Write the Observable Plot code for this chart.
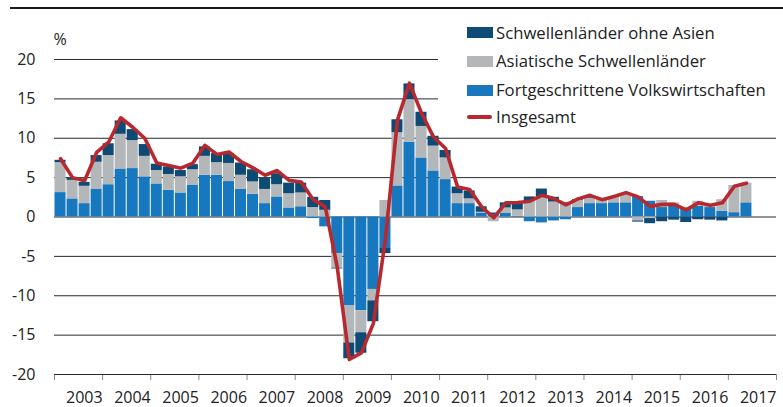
<!DOCTYPE html>
<html>
<head>
<meta charset="utf-8">
<script src="https://cdn.jsdelivr.net/npm/d3@7"></script>
<script src="https://cdn.jsdelivr.net/npm/@observablehq/plot@0.6"></script>
<style>
  html, body { margin: 0; padding: 0; background: #fff; }
  #wrap { position: relative; width: 783px; height: 407px; font-family: "Open Sans", sans-serif; color: #222; }
  #chart svg g[aria-label^="x-axis"] path,
  #chart svg g[aria-label^="x-axis"] line { stroke: #888; }
  .topRule { position: absolute; left: 10px; top: 7.3px; width: 773px; height: 2px; background: #1a1a1a; }
  .legendBox { position: absolute; left: 438px; top: 14px; width: 345px; height: 116px; background: #fff; }
  .sw { position: absolute; left: 466.7px; width: 26px; height: 10.6px; }
  .lt { position: absolute; left: 496px; height: 20px; line-height: 20px; font-size: 16.7px; white-space: nowrap; color: #222; }
  .ln { position: absolute; left: 467px; width: 25px; height: 4px; border-radius: 2px; }
</style>
</head>
<body>
<div id="wrap">
  <div id="chart"></div>
  <div class="topRule"></div>
  <div class="legendBox"></div>
  <div id="legend"></div>
</div>
<script>
// Quarterly observations 2003 Q1 – 2017 Q2 (58 quarters)
const quarters = d3.range(58).map(i => `${2003 + Math.floor(i / 4)} Q${(i % 4) + 1}`);

const seriesNames = ["Fortgeschrittene Volkswirtschaften", "Asiatische Schwellenländer", "Schwellenländer ohne Asien"];
const seriesColors = ["#1878bf", "#b4b7b9", "#0d4b74"];
const lineName = "Insgesamt";
const lineColor = "#b8292f";

const fortgeschrittene = [
  3.1, 2.3, 1.7, 3.55, 4.1, 6.1, 6.15, 5.1, 4.2, 3.4,
  3.05, 4.0, 5.3, 5.3, 4.5, 3.5, 2.9, 1.7, 2.55, 1.15,
  1.3, -0.2, -1.25, -4.65, -11.3, -11.9, -9.2, -4.0, 3.95, 9.5,
  7.5, 5.85, 4.75, 1.7, 1.7, 0.5, 0.3, 0.5, 0.1, -0.6,
  -0.75, -0.5, -0.35, 1.2, 1.7, 1.7, 1.8, 1.8, 2.6, 2.0,
  1.2, 1.4, 1.0, 1.35, 1.2, 0.75, 0.55, 1.8
];
const asiatische = [
  3.8, 2.35, 2.2, 3.4, 3.7, 4.4, 3.55, 2.6, 1.7, 2.0,
  2.05, 2.0, 2.4, 1.6, 2.3, 1.8, 1.55, 1.8, 1.55, 1.8,
  1.75, 1.2, 0.85, -1.85, -4.7, -2.8, -1.45, 2.1, 6.75, 5.4,
  4.0, 3.15, 2.75, 1.25, 0.6, 0.1, -0.6, 0.65, 0.8, 2.0,
  2.55, 1.9, 1.7, 0.9, 0.65, 0.6, 0.8, 1.15, -0.5, -0.2,
  0.9, 0.4, 0.2, 0.65, 0.4, 1.45, 3.45, 2.5
];
const ohneAsien = [
  0.3, 0.25, 0.5, 0.85, 1.5, 1.7, 1.4, 1.5, 0.8, 0.95,
  0.8, 0.65, 1.2, 1.15, 1.25, 1.55, 1.55, 1.45, 1.4, 1.35,
  1.25, 1.3, 1.25, -0.1, -2.0, -2.6, -2.65, -0.65, 1.65, 2.0,
  1.8, 1.25, 0.95, 0.85, 1.0, 0.7, 0.2, 0.65, 0.9, 0.55,
  1.0, 0.6, 0.1, 0.1, 0.1, 0.0, 0.0, 0.0, -0.15, -0.65,
  -0.6, -0.4, -0.7, -0.35, -0.4, -0.5, 0.0, 0.0
];
const insgesamt = [
  7.4, 5.0, 4.6, 8.2, 9.5, 12.6, 11.4, 10.0, 6.85, 6.55,
  6.2, 6.85, 9.1, 7.95, 8.25, 7.05, 6.25, 5.3, 5.9, 4.65,
  4.45, 2.2, 1.3, -6.4, -18.1, -17.25, -13.5, -2.8, 12.3, 17.0,
  13.2, 10.15, 8.7, 3.8, 3.5, 1.3, -0.1, 1.8, 1.85, 2.0,
  2.75, 2.35, 1.55, 2.3, 2.75, 2.2, 2.6, 3.1, 2.55, 1.35,
  1.6, 1.6, 0.9, 1.8, 1.5, 1.8, 3.9, 4.3
];

const yearLabels = ["2003","2004","2005","2006","2007","2008","2009","2010","2011","2012","2013","2014","2015","2016","2017"];
const yTicks = [-20, -15, -10, -5, 0, 5, 10, 15, 20];
const yUnit = "%";

// Build tables
const seriesArrays = [fortgeschrittene, asiatische, ohneAsien];
const bars = [];
seriesArrays.forEach((arr, s) => {
  arr.forEach((v, i) => bars.push({q: i, q2: i + 1, quarter: quarters[i], series: seriesNames[s], value: v}));
});
bars.sort((a, b) => a.q - b.q || seriesNames.indexOf(a.series) - seriesNames.indexOf(b.series));
const linePts = insgesamt.map((v, i) => ({q: i + 0.5, quarter: quarters[i], value: v}));
const nSlots = yearLabels.length * 4;
const yearTicks = d3.range(0, nSlots + 1, 4);
const yearLabelRows = yearLabels.map((label, k) => ({label, pos: (k + 1) * 4}));

const chart = Plot.plot({
  width: 783,
  height: 407,
  marginLeft: 54,
  marginRight: 7,
  marginTop: 59,
  marginBottom: 33,
  style: {fontFamily: "'Open Sans', sans-serif", fontSize: "16px", color: "#222", background: "transparent", overflow: "visible"},
  x: {domain: [0, nSlots], ticks: yearTicks, tickSize: 6, tickFormat: () => "", label: null},
  y: {domain: [-20, 20], ticks: yTicks, tickSize: 0, tickPadding: 19, tickFormat: d => String(d), label: null},
  color: {domain: seriesNames, range: seriesColors},
  marks: [
    Plot.ruleY(yTicks, {stroke: "#2a2a2a", strokeWidth: 1}),
    Plot.rectY(bars, {x1: "q", x2: "q2", y: "value", fill: "series", insetLeft: 0.5, insetRight: 0.5}),
    Plot.line(linePts, {x: "q", y: "value", stroke: lineColor, strokeWidth: 3.6, strokeLinejoin: "round", strokeLinecap: "round"}),
    Plot.text(yearLabelRows, {x: "pos", text: "label", frameAnchor: "bottom", textAnchor: "end", lineAnchor: "bottom", dy: 28, fontSize: 16, fill: "#222"}),
    Plot.text([yUnit], {frameAnchor: "top-left", text: d => d, textAnchor: "start", lineAnchor: "bottom", dx: -1, dy: -15, fontSize: 16, fill: "#222"})
  ]
});
document.getElementById("chart").appendChild(chart);

// Legend
const legend = document.getElementById("legend");
const legendItems = [
  {name: seriesNames[2], color: seriesColors[2], center: 32.5, type: "rect"},
  {name: seriesNames[1], color: seriesColors[1], center: 61.4, type: "rect"},
  {name: seriesNames[0], color: seriesColors[0], center: 90.4, type: "rect"},
  {name: lineName, color: lineColor, center: 117.3, type: "line"}
];
legendItems.forEach(it => {
  const sw = document.createElement("div");
  if (it.type === "rect") {
    sw.className = "sw";
    sw.style.top = (it.center - 5.3) + "px";
  } else {
    sw.className = "ln";
    sw.style.top = (it.center - 2) + "px";
  }
  sw.style.background = it.color;
  legend.appendChild(sw);
  const t = document.createElement("div");
  t.className = "lt";
  t.style.top = (it.center - 10) + "px";
  t.textContent = it.name;
  legend.appendChild(t);
});
</script>
</body>
</html>
